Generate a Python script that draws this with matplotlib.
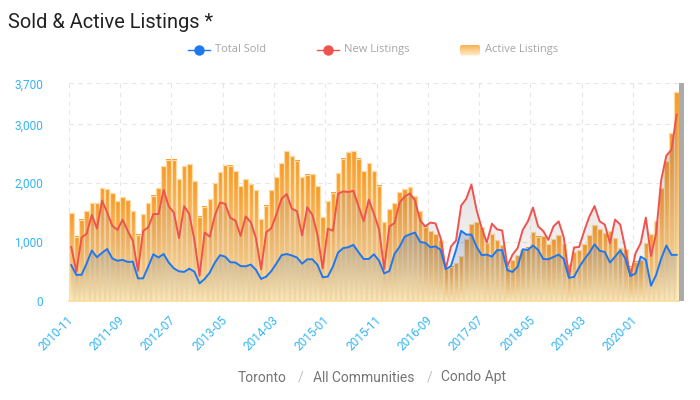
import numpy as np
import matplotlib
matplotlib.use("Agg")
import matplotlib.pyplot as plt
from matplotlib.colors import LinearSegmentedColormap
from matplotlib.patches import FancyBboxPatch, Rectangle
from matplotlib.transforms import ScaledTranslation

# values
active = [1490,1090,1380,1520,1665,1660,1910,1895,1825,1695,1770,1710,1530,1125,1470,1660,1790,1910,2285,2400,
          2400,2065,2290,2325,2030,1430,1600,1735,2000,2185,2310,2300,2200,1955,2070,1990,1877,1395,1620,1877,
          2105,2345,2550,2465,2385,2100,2145,2150,1950,1420,1695,1840,2175,2420,2530,2545,2420,2205,2340,2200,
          1960,1335,1555,1655,1855,1900,1940,1780,1530,1260,1190,1140,1035,540,580,640,760,1050,1300,1335,
          1255,980,1135,1035,950,580,695,775,865,905,1165,1090,1100,960,1050,1110,970,625,830,865,
          970,1115,1280,1215,1150,1180,1060,890,880,580,665,690,980,1130,1350,1915,2370,2855,3550]
new_listings = [915,495,1075,1140,1460,1230,1705,1500,1275,1205,1380,1190,1020,510,1185,1250,1475,1475,1885,1605,
                1500,1065,1610,1475,1035,425,1160,1090,1455,1670,1650,1410,1365,1105,1435,1335,1065,535,1165,1235,
                1475,1735,1815,1565,1525,1110,1590,1460,1120,550,1225,1190,1820,1860,1850,1870,1605,1355,1720,1480,
                1215,540,1265,1320,1670,1775,1825,1705,1365,1265,1330,1315,1065,540,920,1025,1620,1735,1975,1545,
                1235,990,1310,1215,1195,590,780,895,1205,1350,1585,1265,1185,1035,1265,1350,1080,410,905,915,
                1190,1435,1610,1350,1295,980,1380,1295,890,420,810,980,1415,760,1150,2060,2470,2570,3170]
total_sold = [605,440,440,635,855,740,815,880,720,680,695,660,665,380,380,580,790,735,795,650,
              550,500,490,545,495,295,370,480,650,775,750,655,650,590,585,615,525,370,410,505,
              635,775,795,770,735,630,705,705,610,400,410,580,820,895,910,950,825,710,710,790,
              680,465,505,795,920,1090,1130,1160,1000,985,910,925,865,535,590,865,1190,1125,1125,920,
              775,785,750,860,860,520,490,580,875,865,940,865,710,705,745,785,710,390,405,570,
              705,820,960,850,830,650,750,855,720,420,465,750,695,255,440,720,940,780,780]
tick_labels = ["2010-11","2011-09","2012-07","2013-05","2014-03","2015-01","2015-11","2016-09","2017-07","2018-05","2019-03","2020-01"]
y_ticks = [0,1000,2000,3000,3700]

BLUE = "#1f78f0"
RED = "#ef5350"
TICK = "#35b5f0"
x = np.arange(len(active))

fig = plt.figure(figsize=(7,4),dpi=100)
ax = fig.add_axes([68.7/700,(400-300.7)/400,(679.2-68.7)/700,(300.7-83.3)/400])

bar_cmap = LinearSegmentedColormap.from_list("bar",["#ffeebc","#fbcf85","#f9b55c","#f79a26"])
grad = np.linspace(1,0,64).reshape(-1,1)

#bars with a vertical gradient, each one sized to its own patch
bars = ax.bar(x,active,width=0.88,facecolor="none",edgecolor="#fcdca6",linewidth=0.9,zorder=2)
for b,v in zip(bars,active):
    x0 = b.get_x()
    ax.imshow(grad,extent=(x0,x0+b.get_width(),0,v),aspect="auto",cmap=bar_cmap,vmin=0,vmax=1,zorder=1)

def area(values,rgb,alpha,z):
    # line area fades out towards the bottom
    poly = ax.fill_between(x,values,0,facecolor="none",edgecolor="none",zorder=z)
    rgba = np.zeros((64,1,4))
    rgba[:,:,0],rgba[:,:,1],rgba[:,:,2] = rgb
    rgba[:,0,3] = np.linspace(alpha,0.02,64)
    im = ax.imshow(rgba,extent=(0,len(values)-1,0,max(values)),aspect="auto",zorder=z)
    im.set_clip_path(poly.get_paths()[0],transform=ax.transData)

area(new_listings,(0.50,0.38,0.38),0.28,3)
area(total_sold,(0.30,0.46,0.68),0.30,4)

ax.plot(x,new_listings,color=RED,lw=1.4,zorder=5,solid_joinstyle="round")
ax.plot(x,total_sold,color=BLUE,lw=1.4,zorder=6,solid_joinstyle="round")

ax.set_xlim(-0.5,len(active)-0.5)
ax.set_ylim(0,3700)
ax.set_xticks(np.arange(len(tick_labels))*10-0.5)
ax.set_xticklabels(tick_labels,rotation=45,ha="right",va="top",rotation_mode="anchor",color=TICK,fontsize=8.6,family="Roboto")
ax.set_yticks(y_ticks)
ax.set_yticklabels([f"{t:,}" for t in y_ticks],color=TICK,fontsize=8.6,family="Roboto")
ax.tick_params(axis="x",length=0,pad=9)
ax.tick_params(axis="y",length=0,pad=18.5)
shift = ScaledTranslation(-1.5/72,0,fig.dpi_scale_trans)
for lbl in ax.get_xticklabels():
    lbl.set_transform(lbl.get_transform()+shift)
ax.grid(True,color="#e6e6e6",linestyle=(0,(4,4)),linewidth=0.8,zorder=0)
ax.set_axisbelow(True)
for s in ax.spines.values():
    s.set_visible(False)
ax.axhline(0,color="#fbdc9c",lw=1.2,zorder=7,clip_on=False)

# grey slider at the right end
ax.add_patch(Rectangle((1.0,0),4.7/610.5,1,transform=ax.transAxes,facecolor="#ababab",edgecolor="none",clip_on=False,zorder=8))

#overlay in pixel coords for title, legend and footer
top = fig.add_axes([0,0,1,1],facecolor="none")
top.axis("off")
top.text(8,22,"Sold & Active Listings *",fontsize=14.4,color="#222222",family="Roboto",va="center")

leg_y = 49.5
top.plot([188,210],[leg_y,leg_y],color=BLUE,lw=1)
top.plot([199],[leg_y],"o",color=BLUE,ms=6.5)
top.text(215,leg_y,"Total Sold",fontsize=8,color="#a6a6a6",family="Open Sans",va="center")
top.plot([317,339],[leg_y,leg_y],color=RED,lw=1)
top.plot([328],[leg_y],"o",color=RED,ms=6.5)
top.text(344,leg_y,"New Listings",fontsize=8,color="#a6a6a6",family="Open Sans",va="center")
leg_im = top.imshow(grad,extent=(459,481,56.5,44),aspect="auto",cmap=LinearSegmentedColormap.from_list("l",["#fff0d0","#f7a53c"]),vmin=0,vmax=1)
leg_box = FancyBboxPatch((460,45),20,10.5,boxstyle="round,pad=0,rounding_size=2",transform=top.transData,facecolor="none",edgecolor="none")
top.add_patch(leg_box)
leg_im.set_clip_path(leg_box)
top.text(485,leg_y,"Active Listings",fontsize=8,color="#a6a6a6",family="Open Sans",va="center")

foot_y = 377.5
top.text(238,foot_y,"Toronto",fontsize=10,color="#757575",family="Roboto",va="center")
top.text(297.5,foot_y,"/",fontsize=10,color="#c0c0c0",family="Roboto",va="center")
top.text(313,foot_y,"All Communities",fontsize=10,color="#757575",family="Roboto",va="center")
top.text(426.5,foot_y,"/",fontsize=10,color="#c0c0c0",family="Roboto",va="center")
top.text(441,foot_y,"Condo Apt",fontsize=10,color="#757575",family="Roboto",va="center")
top.set_xlim(0,700)
top.set_ylim(400,0)

fig.savefig("out.png",dpi=100)
